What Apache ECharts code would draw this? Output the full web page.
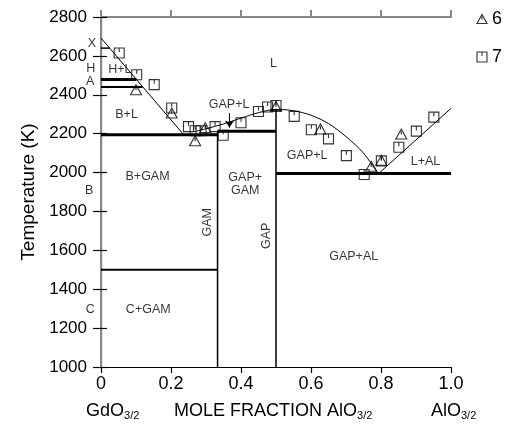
<!DOCTYPE html>
<html>
<head>
<meta charset="utf-8">
<script src="https://cdn.jsdelivr.net/npm/echarts@6/dist/echarts.min.js"></script>
<style>
  html, body { margin: 0; padding: 0; background: #fff; }
  #chart { width: 507px; height: 427px; }
</style>
</head>
<body>
<div id="chart"></div>
<script>
// Gd2O3–Al2O3 (GdO3/2–AlO3/2) phase diagram with measured liquidus points

// Axis ticks
const xTicks = [0, 0.2, 0.4, 0.6, 0.8, 1.0];
const xTickLabels = ['0', '0.2', '0.4', '0.6', '0.8', '1.0'];
const yTicks = [1000, 1200, 1400, 1600, 1800, 2000, 2200, 2400, 2600, 2800];

// Phase boundaries (mole fraction AlO3/2, temperature K)
const liquidusGd = [[0, 2692], [0.236, 2195]];
const liquidusGap = [[0.265, 2210], [0.30, 2225], [0.35, 2250], [0.40, 2280], [0.45, 2308],
                     [0.50, 2325], [0.55, 2318], [0.60, 2295], [0.65, 2252], [0.70, 2185],
                     [0.75, 2100], [0.792, 1993]];
const liquidusAl = [[0.792, 1993], [1.0, 2330]];
const lineX = [[0, 2640], [0.025, 2640]];
const lineH = [[0, 2478], [0.101, 2478]];
const lineA = [[0, 2440], [0.119, 2440]];
const eutecticB = [[0, 2195], [0.333, 2195]];
const peritecticGam = [[0.333, 2212], [0.5, 2212]];
const lineBC = [[0, 1500], [0.333, 1500]];
const eutecticAl = [[0.5, 1995], [1.0, 1995]];
const gamLine = [[0.333, 1000], [0.333, 2212]];
const gapLine = [[0.5, 1000], [0.5, 2325]];

// Measured points
const set6 = [[0.100, 2426], [0.202, 2306], [0.269, 2164], [0.298, 2231], [0.5, 2340],
              [0.627, 2224], [0.772, 2032], [0.801, 2063], [0.858, 2198]];
const set7 = [[0.052, 2615], [0.102, 2503], [0.152, 2452], [0.202, 2332], [0.250, 2236],
              [0.269, 2215], [0.286, 2215], [0.326, 2236], [0.349, 2192], [0.40, 2256],
              [0.45, 2314], [0.476, 2337], [0.5, 2345], [0.552, 2289], [0.601, 2220],
              [0.650, 2173], [0.701, 2087], [0.752, 1990], [0.801, 2060], [0.851, 2130],
              [0.901, 2213], [0.951, 2285]];

// Phase field labels: [x, T, text, rotate]
const fieldLabels = [
  [0.493, 2563, 'L', 0],
  [0.054, 2529, 'H+L', 0],
  [0.073, 2297, 'B+L', 0],
  [0.366, 2348, 'GAP+L', 0],
  [0.133, 1977, 'B+GAM', 0],
  [0.135, 1298, 'C+GAM', 0],
  [0.305, 1744, 'GAM', 90],
  [0.474, 1675, 'GAP', 90],
  [0.589, 2087, 'GAP+L', 0],
  [0.927, 2057, 'L+AL', 0],
  [0.722, 1566, 'GAP+AL', 0],
  [-0.026, 2665, 'X', 0],
  [-0.029, 2537, 'H', 0],
  [-0.031, 2470, 'A', 0],
  [-0.034, 1908, 'B', 0],
  [-0.031, 1295, 'C', 0]
];
const gapGamLabel = [[0.412, 1939, 'GAP+\nGAM']];
const arrowGapL = [[0.367, 2305], [0.367, 2232]];

const FONT = '"Liberation Sans", Arial, sans-serif';
const SQUARE = 'path://M0,0 L10,0 L10,10 L0,10 Z M5,0 L5,4';
const TRIANGLE = 'path://M5,0 L10,9 L0,9 Z M5,2 L5,5';
const hollow = { color: 'rgba(0,0,0,0)', borderColor: '#000', borderWidth: 1.1 };

function boundary(data, width) {
  return {
    type: 'line', data: data, symbol: 'none', silent: true, clip: false,
    lineStyle: { color: '#000', width: width }, z: 2
  };
}

const chart = echarts.init(document.getElementById('chart'), null, { renderer: 'canvas' });

const subRich = { s: { fontFamily: FONT, fontSize: 11, padding: [9, 0, 0, 0] } };

const option = {
  animation: false,
  backgroundColor: '#fff',
  grid: { left: 101, right: 56, top: 17, bottom: 60 },
  legend: {
    orient: 'vertical', right: 0, top: 5, itemGap: 20,
    itemWidth: 10, itemHeight: 10,
    textStyle: { fontFamily: FONT, fontSize: 18, color: '#000' },
    data: [
      { name: '6', icon: TRIANGLE, itemStyle: hollow },
      { name: '7', icon: SQUARE, itemStyle: hollow }
    ]
  },
  xAxis: [
    {
      type: 'value', min: 0, max: 1, interval: 0.2,
      axisLine: { lineStyle: { color: '#000', width: 1.2 } },
      axisTick: { length: 6, lineStyle: { color: '#000', width: 1.2 } },
      axisLabel: {
        fontFamily: FONT, fontSize: 18, color: '#000', margin: 8,
        formatter: function (v) {
          const i = xTicks.findIndex(t => Math.abs(t - v) < 1e-6);
          return i >= 0 ? xTickLabels[i] : '';
        }
      },
      splitLine: { show: false }
    },
    {
      type: 'value', min: 0, max: 1, interval: 0.2, position: 'top',
      axisLine: { lineStyle: { color: '#888', width: 2 } },
      axisTick: { length: 7, lineStyle: { color: '#888', width: 2 } },
      axisLabel: { show: false }, splitLine: { show: false }
    }
  ],
  yAxis: [
    {
      type: 'value', min: yTicks[0], max: yTicks[yTicks.length - 1], interval: 200,
      name: 'Temperature (K)', nameLocation: 'middle', nameGap: 61,
      nameTextStyle: { fontFamily: FONT, fontSize: 19, color: '#000' },
      axisLine: { lineStyle: { color: '#000', width: 1.2 } },
      axisTick: { length: 8, lineStyle: { color: '#000', width: 1.2 } },
      axisLabel: { fontFamily: FONT, fontSize: 17, color: '#000', margin: 14,
                   formatter: v => String(v) },
      splitLine: { show: false }
    },
    {
      type: 'value', min: yTicks[0], max: yTicks[yTicks.length - 1], interval: 200, position: 'right',
      axisLine: { lineStyle: { color: '#888', width: 2 } },
      axisTick: { length: 6, lineStyle: { color: '#000', width: 1.2 } },
      axisLabel: { show: false }, splitLine: { show: false }
    }
  ],
  graphic: [
    {
      type: 'text', left: 86, top: 402,
      style: { text: 'GdO{s|3/2}', fontFamily: FONT, fontSize: 18, fill: '#000', rich: subRich }
    },
    {
      type: 'text', left: 174, top: 402,
      style: { text: 'MOLE FRACTION AlO{s|3/2}', fontFamily: FONT, fontSize: 18, fill: '#000', rich: subRich }
    },
    {
      type: 'text', left: 431, top: 402,
      style: { text: 'AlO{s|3/2}', fontFamily: FONT, fontSize: 18, fill: '#000', rich: subRich }
    }
  ],
  series: [
    boundary(liquidusGd, 1),
    Object.assign(boundary(liquidusGap, 1), { smooth: 0.3 }),
    boundary(liquidusAl, 1),
    boundary(lineX, 1.5),
    boundary(lineH, 3),
    boundary(lineA, 2),
    boundary(eutecticB, 3),
    boundary(peritecticGam, 3),
    boundary(lineBC, 2),
    boundary(eutecticAl, 3),
    boundary(gamLine, 1.5),
    boundary(gapLine, 1.5),
    {
      type: 'line', data: arrowGapL, symbol: 'none', silent: true,
      lineStyle: { color: '#000', width: 1 },
      markLine: {
        silent: true, symbol: ['none', 'arrow'], symbolSize: 7,
        lineStyle: { color: '#000', width: 1, type: 'solid' }, label: { show: false },
        data: [[{ coord: arrowGapL[0] }, { coord: arrowGapL[1] }]]
      }
    },
    {
      type: 'scatter', name: '6', data: set6, symbol: TRIANGLE, symbolSize: [11, 10],
      itemStyle: hollow, z: 5
    },
    {
      type: 'scatter', name: '7', data: set7, symbol: SQUARE, symbolSize: 10,
      itemStyle: hollow, z: 5
    },
    {
      type: 'scatter', silent: true, clip: false, symbolSize: 0,
      data: fieldLabels.map(d => ({
        value: [d[0], d[1]],
        label: { show: true, position: 'inside', formatter: d[2], rotate: d[3],
                 fontFamily: FONT, fontSize: 12.5, color: '#000' }
      })), z: 6
    },
    {
      type: 'scatter', silent: true, clip: false, symbolSize: 0,
      data: gapGamLabel.map(d => ({
        value: [d[0], d[1]],
        label: { show: true, position: 'inside', formatter: d[2], align: 'center',
                 fontFamily: FONT, fontSize: 12.5, color: '#000', lineHeight: 13 }
      })), z: 6
    }
  ]
};

chart.setOption(option);
</script>
</body>
</html>
